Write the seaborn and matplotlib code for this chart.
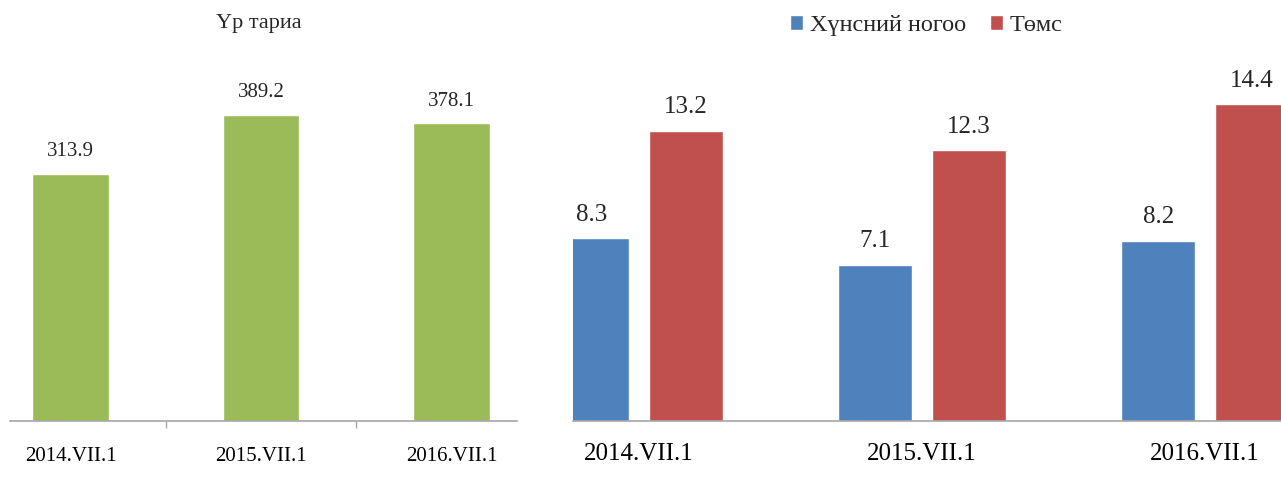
import pandas as pd
import matplotlib
matplotlib.use("Agg")
import matplotlib.pyplot as plt
import seaborn as sns

# Data
dates = ["2014.VII.1", "2015.VII.1", "2016.VII.1"]
grain = [313.9, 389.2, 378.1]
vegetables = [8.3, 7.1, 8.2]
potato = [13.2, 12.3, 14.4]
grain_title = "Үр тариа"
series_names = ["Хүнсний ногоо", "Төмс"]

green = "#9BBB59"
blue = "#4F81BD"
red = "#C0504D"
axis_gray = "#A6A6A6"

sns.set_style("white")
plt.rcParams['font.family'] = ['Liberation Serif', 'DejaVu Serif']

fig = plt.figure(figsize=(12.81, 4.91), dpi=100)

# Left panel: grain
ax1 = fig.add_axes([0.0078, 0.1426, 0.3958, 0.7760])
sns.barplot(x=dates, y=grain, color=green, width=0.404, saturation=1, ax=ax1)
ax1.set_xlim(-0.318, 2.344)
ax1.set_ylim(0, 484)
for c in ax1.containers:
    ax1.bar_label(c, fmt="%.1f", padding=9, fontsize=15)
ax1.text(0.49, 1.042, grain_title, transform=ax1.transAxes,
         ha="center", va="center", fontsize=16)

# Right panel: vegetables and potato
veg_df = pd.DataFrame({
    "date": dates * 2,
    "value": vegetables + potato,
    "kind": [series_names[0]] * 3 + [series_names[1]] * 3,
})
ax2 = fig.add_axes([0.4473, 0.1426, 0.5527, 0.7760])
sns.barplot(data=veg_df, x="date", y="value", hue="kind",
            palette=[blue, red], width=0.664, gap=0.212, saturation=1, ax=ax2)
ax2.set_xlim(-0.233, 2.268)
ax2.set_ylim(0, 17.32)
for c in ax2.containers:
    ax2.bar_label(c, fmt="%.1f", padding=9, fontsize=18)

handles, labels = ax2.get_legend_handles_labels()
ax2.get_legend().remove()
fig.legend(handles, labels, loc="center", bbox_to_anchor=(0.723, 0.948),
           ncol=2, frameon=False, fontsize=17.5, handlelength=0.55,
           handleheight=0.55, handletextpad=0.25, columnspacing=1.0)

for ax, fs, pad in [(ax1, 15, 19), (ax2, 18, 16)]:
    ax.set_xlabel("")
    ax.set_ylabel("")
    ax.set_yticks([])
    for side in ["left", "right", "top"]:
        ax.spines[side].set_visible(False)
    ax.spines["bottom"].set_color(axis_gray)
    ax.spines["bottom"].set_linewidth(1.2)
    ax.tick_params(axis="x", length=0, labelsize=fs, pad=pad, colors="black")
    ax.patch.set_alpha(0)

# small tick marks between categories on the left panel
ax1.set_xticks([0.5, 1.5], minor=True)
ax1.tick_params(axis="x", which="minor", bottom=True, length=5,
                color=axis_gray, width=1)

fig.savefig("out.png", dpi=100)
